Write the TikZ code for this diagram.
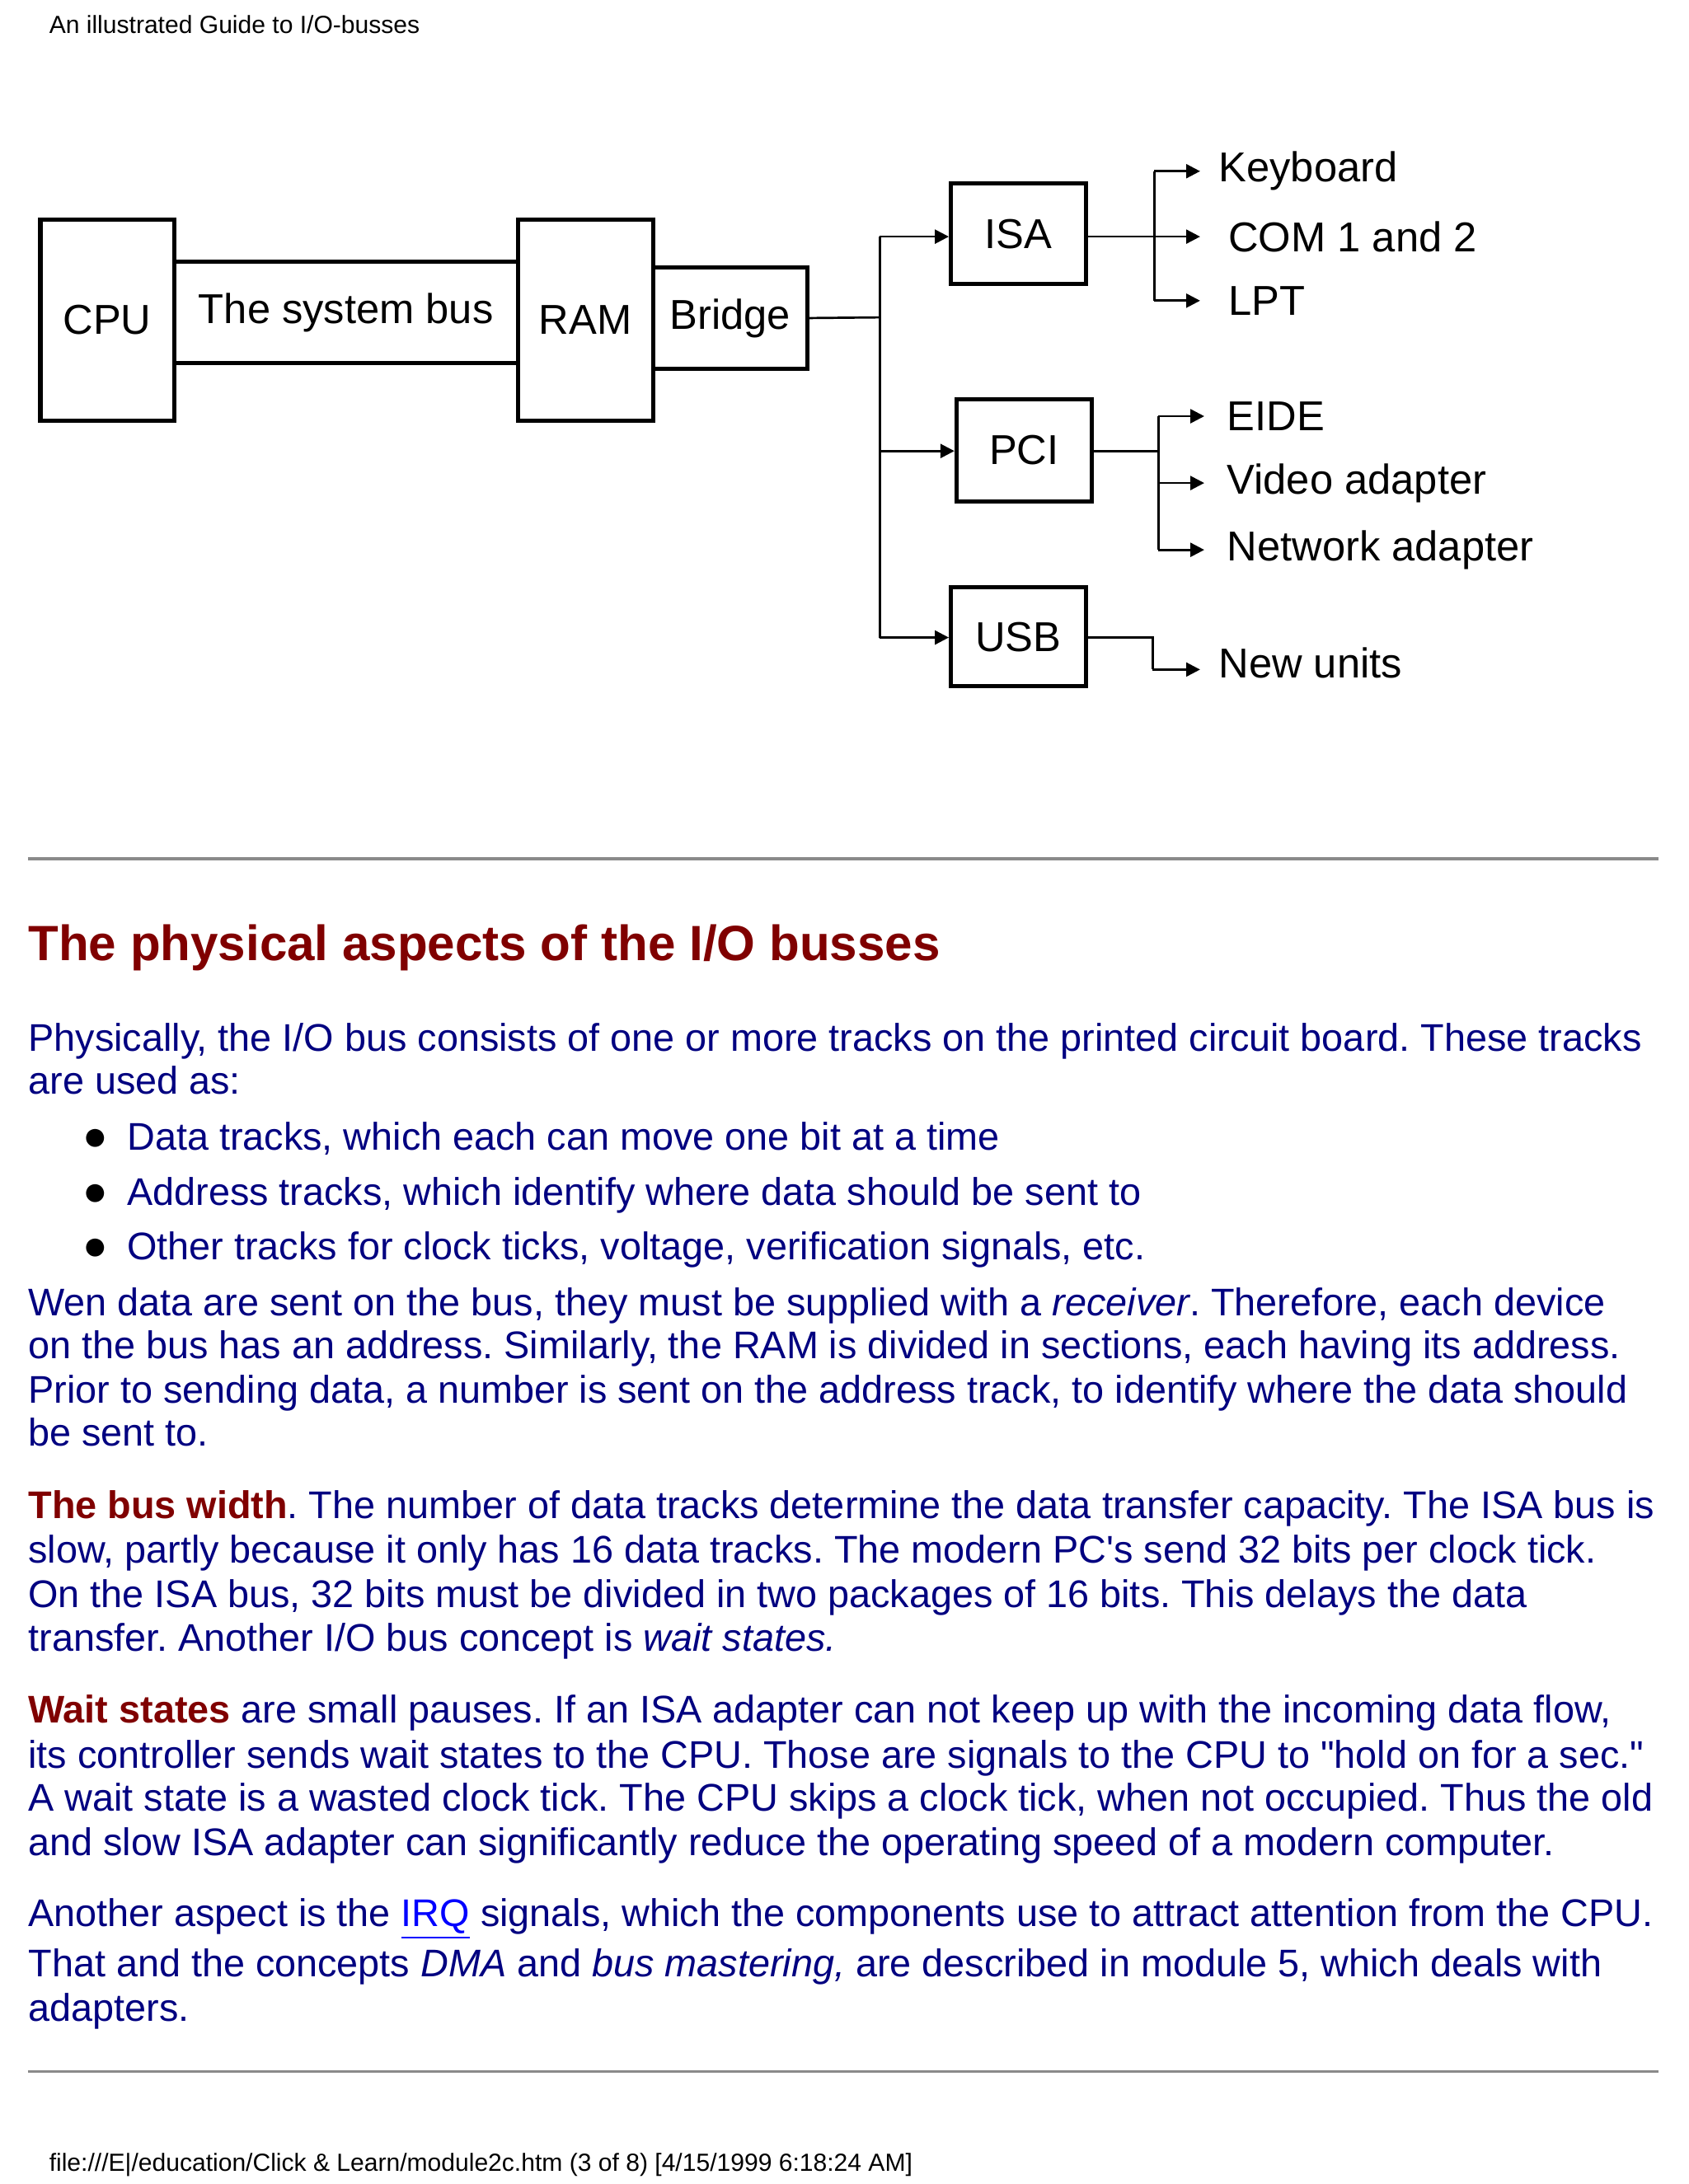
\documentclass[tikz,border=0pt]{standalone}
\usepackage{fontspec}
\setmainfont{Liberation Sans}[Ligatures=TeXOff]
\usetikzlibrary{arrows.meta}
\definecolor{navy}{HTML}{000080}
\definecolor{dred}{HTML}{800000}
\definecolor{rule}{HTML}{8A8A8A}
\frenchspacing
\begin{document}
\begin{tikzpicture}[x=0.5pt,y=-0.5pt,
  box/.style={draw,line width=1.5pt,inner sep=0pt,font=\fontsize{15}{17}\selectfont},
  conn/.style={line width=0.8pt},
  arr/.style={conn,-{Triangle[length=5pt,width=5pt]}},
  lbl/.style={anchor=west,inner sep=0pt,font=\fontsize{15}{17}\selectfont},
  body/.style={anchor=base west,inner sep=0pt,text=navy,font=\fontsize{13.85}{16}\selectfont},
  hrule/.style={draw=rule,line width=1pt}]
\useasboundingbox[fill=white] (0,0) rectangle (1213,1569);
\node[anchor=base west,inner sep=0pt,font=\fontsize{8.9}{10}\selectfont] (hdr) at (35,24) {An illustrated Guide to I/O-busses};
% boxes
\node[box,minimum width=48pt,minimum height=72pt] (cpu) at (77,230) {CPU};
\node[box,minimum width=123.5pt,minimum height=36.5pt] (sys) at (248.5,224.5) {The system bus};
\node[box,minimum width=48.5pt,minimum height=72pt] (ram) at (420.5,230) {RAM};
\node[box,minimum width=55.5pt,minimum height=36.5pt] (bridge) at (524.5,228.5) {Bridge};
\node[box,minimum width=48.5pt,minimum height=36pt] (isa) at (731.5,168) {ISA};
\node[box,minimum width=48.5pt,minimum height=36.5pt] (pci) at (735.5,323.5) {PCI};
\node[box,minimum width=48.5pt,minimum height=35.5pt] (usb) at (731.5,457.5) {USB};
% labels
\node[lbl] (kb) at (875,123) {Keyboard};
\node[lbl] (com) at (882,170) {COM 1 and 2};
\node[lbl] (lpt) at (882,216) {LPT};
\node[lbl] (eide) at (881,299) {EIDE};
\node[lbl] (vid) at (881,347) {Video adapter};
\node[lbl] (net) at (881,395) {Network adapter};
\node[lbl] (nu) at (875,476) {New units};
% bridge fan-out
\coordinate (jb) at (632,228);
\coordinate (jt) at (632,170);
\coordinate (jm) at (632,324);
\coordinate (jl) at (632,458);
\draw[conn] (bridge.east) -- (jb);
\draw[conn] (jt) -- (jl);
\draw[arr] (jt) -- (isa.west |- jt);
\draw[arr] (jm) -- (pci.west |- jm);
\draw[arr] (jl) -- (usb.west |- jl);
% ISA fan-out
\coordinate (ia) at (829,170);
\coordinate (ik) at (829,123);
\coordinate (il) at (829,216);
\draw[conn] (isa.east |- ia) -- (ia);
\draw[conn] (ik) -- (il);
\draw[arr] (ik) -- (862,123) coordinate (ike);
\draw[arr] (ia) -- (862,170) coordinate (iae);
\draw[arr] (il) -- (862,216) coordinate (ile);
% PCI fan-out
\coordinate (pa) at (832,324);
\coordinate (pt) at (832,299);
\coordinate (pb) at (832,395);
\draw[conn] (pci.east |- pa) -- (pa);
\draw[conn] (pt) -- (pb);
\draw[arr] (pt) -- (865,299) coordinate (pte);
\draw[arr] (832,347) coordinate (pm) -- (865,347) coordinate (pme);
\draw[arr] (pb) -- (865,395) coordinate (pbe);
% USB
\coordinate (ua) at (828,458);
\coordinate (ub) at (828,481);
\draw[conn] (usb.east |- ua) -- (ua) -- (ub);
\draw[arr] (ub) -- (862,481) coordinate (ube);
% rules
\draw[hrule] (20,617) coordinate (r1a) -- (1191,617) coordinate (r1b);
\draw[hrule] (20,1488) coordinate (r2a) -- (1191,1488) coordinate (r2b);
% heading
\node[anchor=base west,inner sep=0pt,text=dred,font=\bfseries\fontsize{17.8}{20}\selectfont] (h) at (20,690) {The physical aspects of the I/O busses};
% body
\node[body] (l1) at (20,755) {Physically, the I/O bus consists of one or more tracks on the printed circuit board. These tracks};
\node[body] (l2) at (20,786) {are used as:};
\node[body,text=black] (b1) at (59,826) {\fontsize{15}{16}\selectfont●};
\node[body,text=black] (b2) at (59,866) {\fontsize{15}{16}\selectfont●};
\node[body,text=black] (b3) at (59,905) {\fontsize{15}{16}\selectfont●};
\node[body] (l3) at (91,826) {Data tracks, which each can move one bit at a time};
\node[body] (l4) at (91,866) {Address tracks, which identify where data should be sent to};
\node[body] (l5) at (91,905) {Other tracks for clock ticks, voltage, verification signals, etc.};
\node[body] (l6) at (20,945) {Wen data are sent on the bus, they must be supplied with a \textit{receiver}. Therefore, each device};
\node[body] (l7) at (20,976) {on the bus has an address. Similarly, the RAM is divided in sections, each having its address.};
\node[body] (l8) at (20,1008) {Prior to sending data, a number is sent on the address track, to identify where the data should};
\node[body] (l9) at (20,1039) {be sent to.};
\node[body] (m1) at (20,1091) {\textcolor{dred}{\textbf{The bus width}}. The number of data tracks determine the data transfer capacity. The ISA bus is};
\node[body] (m2) at (20,1123) {slow, partly because it only has 16 data tracks. The modern PC's send 32 bits per clock tick.};
\node[body] (m3) at (20,1155) {On the ISA bus, 32 bits must be divided in two packages of 16 bits. This delays the data};
\node[body] (m4) at (20,1186) {transfer. Another I/O bus concept is \textit{wait states.}};
\node[body] (w1) at (20,1238) {\textcolor{dred}{\textbf{Wait states}} are small pauses. If an ISA adapter can not keep up with the incoming data flow,};
\node[body] (w2) at (20,1270) {its controller sends wait states to the CPU. Those are signals to the CPU to "hold on for a sec."};
\node[body] (w3) at (20,1301) {A wait state is a wasted clock tick. The CPU skips a clock tick, when not occupied. Thus the old};
\node[body] (w4) at (20,1333) {and slow ISA adapter can significantly reduce the operating speed of a modern computer.};
\node[body] (a1) at (20,1384) {Another aspect is the \textcolor{blue}{\underline{IRQ}} signals, which the components use to attract attention from the CPU.};
\node[body] (a2) at (20,1420) {That and the concepts \textit{DMA} and \textit{bus mastering,} are described in module 5, which deals with};
\node[body] (a3) at (20,1452) {adapters.};
\node[anchor=base west,inner sep=0pt,font=\fontsize{8.9}{10}\selectfont] (ftr) at (35,1560) {file:///E|/education/Click \& Learn/module2c.htm (3 of 8) [4/15/1999 6:18:24 AM]};
\end{tikzpicture}
\end{document}
